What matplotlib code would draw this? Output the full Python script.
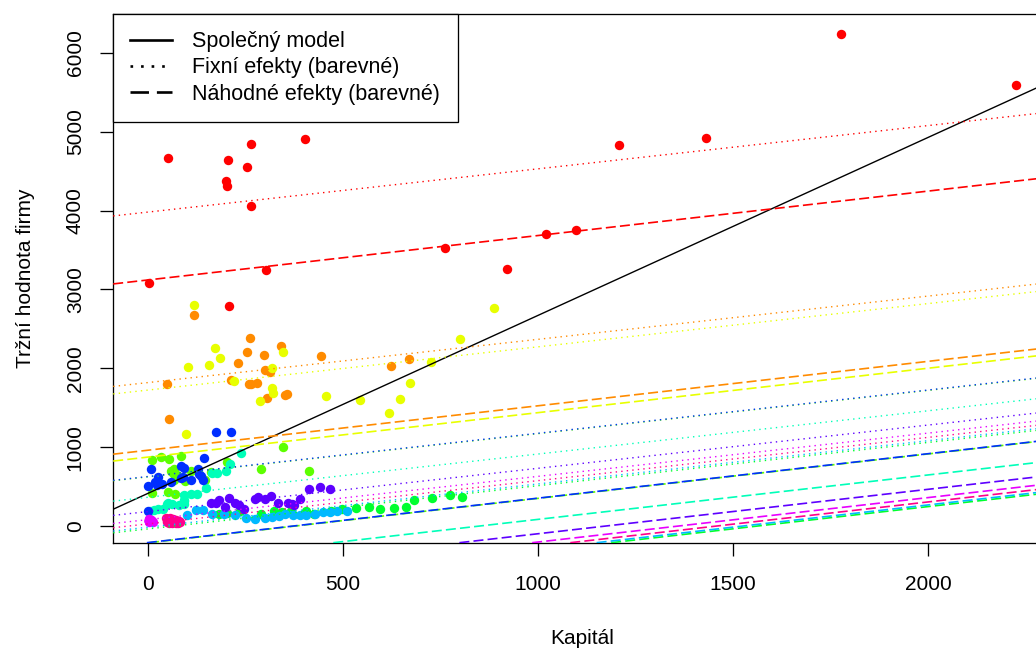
import numpy as np
import matplotlib
matplotlib.use("Agg")
import matplotlib.pyplot as plt
from matplotlib.lines import Line2D

plt.rcParams['font.family'] = ['Liberation Sans', 'DejaVu Sans']

# firms in panel order and their rainbow colours
firms = ["General Motors", "US Steel", "General Electric", "Chrysler",
         "Atlantic Refining", "IBM", "Union Oil", "Westinghouse",
         "Goodyear", "Diamond Match", "American Steel"]
colors = ["#FF0000", "#FF8B00", "#E8FF00", "#5DFF00", "#00FF2E", "#00FFB9",
          "#00B9FF", "#002EFF", "#5D00FF", "#E800FF", "#FF008B"]

gm_capital = [2.8, 52.6, 156.9, 209.2, 203.4, 207.2, 255.2, 303.7, 264.1, 201.6,
              265.0, 402.2, 761.5, 922.4, 1020.1, 1099.0, 1207.7, 1430.5, 1777.3, 2226.3]
gm_value = [3078.5, 4661.7, 5387.1, 2792.2, 4313.2, 4643.9, 4551.2, 3244.1, 4053.7, 4379.3,
            4840.9, 4900.9, 3526.5, 3254.7, 3700.2, 3755.6, 4833.0, 4924.9, 6241.7, 5593.6]

uss_capital = [53.8, 50.5, 118.1, 260.2, 312.7, 254.2, 261.4, 298.7, 301.8, 279.1,
               213.8, 232.6, 264.8, 306.9, 351.1, 357.8, 341.1, 444.2, 623.6, 669.7]
uss_value = [1362.4, 1807.1, 2676.3, 1801.9, 1957.3, 2202.9, 2380.5, 2168.6, 1985.1, 1813.9,
             1850.2, 2067.7, 1796.7, 1625.8, 1667.0, 1677.4, 2289.5, 2159.4, 2031.3, 2115.5]

ge_capital = [97.8, 104.4, 118.0, 156.2, 172.6, 186.6, 220.9, 287.8, 319.9, 321.3,
              319.6, 346.0, 456.4, 543.4, 618.3, 647.4, 671.3, 726.1, 800.3, 888.9]
ge_value = [1170.6, 2015.8, 2803.3, 2039.7, 2256.2, 2132.2, 1834.1, 1588.0, 1749.4, 1687.2,
            2007.7, 2208.3, 1656.7, 1604.4, 1431.8, 1610.5, 1819.4, 2079.7, 2371.6, 2759.9]

chr_capital = [10.5, 10.2, 34.7, 51.8, 64.3, 67.1, 75.2, 71.4, 67.1, 60.5,
               54.6, 84.8, 96.8, 110.2, 147.4, 163.2, 203.5, 290.6, 346.1, 414.9]
chr_value = [417.5, 837.8, 883.9, 437.9, 679.7, 727.8, 643.6, 410.9, 588.4, 698.4,
             846.4, 893.8, 579.0, 694.6, 590.3, 693.5, 809.0, 727.0, 1001.5, 703.2]

ar_capital = [183.2, 204.0, 236.0, 291.7, 323.1, 344.0, 367.7, 407.2, 426.6, 470.0,
              499.2, 534.6, 566.6, 595.3, 631.4, 662.3, 683.9, 729.3, 774.3, 804.9]
ar_value = [157.7, 167.9, 192.9, 156.7, 191.4, 185.5, 199.6, 189.5, 151.2, 187.7,
            214.7, 232.9, 249.0, 224.5, 237.3, 240.1, 327.3, 359.4, 398.4, 365.7]

ibm_capital = [6.5, 15.8, 27.7, 39.2, 48.6, 52.5, 61.5, 80.5, 94.4, 92.6,
               92.3, 94.2, 111.4, 127.4, 149.3, 164.4, 177.2, 200.0, 211.5, 238.7]
ibm_value = [197.0, 210.3, 223.1, 216.7, 286.4, 298.0, 276.9, 272.6, 287.4, 330.3,
             324.4, 401.9, 407.4, 409.2, 482.2, 673.8, 676.9, 702.0, 793.5, 927.3]

uo_capital = [100.2, 125.0, 142.4, 165.1, 194.8, 222.9, 252.1, 276.3, 300.3, 318.2,
              336.2, 351.2, 373.6, 389.4, 406.7, 429.5, 450.6, 466.9, 486.2, 511.3]
uo_value = [138.0, 200.1, 210.1, 161.2, 161.7, 145.1, 110.6, 98.1, 108.8, 118.2,
            126.5, 156.7, 148.2, 140.0, 142.0, 152.0, 177.0, 180.0, 190.0, 192.0]

wh_capital = [1.8, 0.8, 7.4, 18.1, 23.5, 26.5, 36.2, 60.8, 84.4, 91.2,
              92.4, 86.0, 111.1, 130.6, 141.8, 136.7, 129.7, 145.5, 174.8, 213.5]
wh_value = [191.5, 516.0, 729.0, 560.4, 519.9, 628.5, 537.1, 561.2, 617.2, 626.7,
            737.2, 760.5, 581.4, 662.3, 583.8, 635.2, 723.8, 864.1, 1193.5, 1188.9]

gy_capital = [162.0, 174.0, 183.0, 198.0, 208.0, 223.0, 234.0, 248.0, 274.0, 282.0,
              316.0, 302.0, 333.0, 359.0, 370.0, 376.0, 391.0, 414.0, 443.0, 468.0]
gy_value = [290.6, 291.1, 335.0, 246.0, 356.2, 289.8, 268.2, 213.3, 348.2, 374.2,
            387.2, 347.4, 291.9, 297.2, 276.9, 274.6, 339.9, 474.8, 496.0, 474.5]

dm_capital = [4.50, 4.71, 4.57, 4.56, 4.38, 4.21, 4.12, 3.83, 3.58, 3.41,
              3.31, 3.23, 3.90, 5.38, 7.39, 8.74, 9.07, 9.93, 11.68, 14.33]
dm_value = [70.91, 87.94, 82.20, 58.72, 80.54, 86.47, 77.68, 62.16, 62.24, 61.82,
            65.85, 69.54, 64.97, 68.00, 71.24, 69.05, 83.04, 74.42, 63.51, 58.12]

as_capital = [48.0, 50.0, 52.0, 54.0, 55.0, 57.0, 58.0, 60.0, 62.0, 63.0,
              65.0, 66.0, 68.0, 70.0, 72.0, 74.0, 76.0, 78.0, 80.0, 84.0]
as_value = [105.0, 60.0, 90.0, 45.0, 75.0, 100.0, 55.0, 85.0, 40.0, 70.0,
            95.0, 50.0, 80.0, 60.0, 45.0, 75.0, 55.0, 40.0, 65.0, 50.0]

capital = [gm_capital, uss_capital, ge_capital, chr_capital, ar_capital, ibm_capital,
           uo_capital, wh_capital, gy_capital, dm_capital, as_capital]
value = [gm_value, uss_value, ge_value, chr_value, ar_value, ibm_value,
         uo_value, wh_value, gy_value, dm_value, as_value]

# fitted lines
pooled_intercept = 415.0
pooled_slope = 2.255
fe_slope = 0.548
fe_intercepts = [3980, 1820, 1725, 625, -34, 367, -12, 630, 186, 84, 30]
re_slope = 0.563
re_intercepts = [3120, 963, 876, -210, -877, -476, -856, -207, -658, -763, -818]

W, H = 1036, 648
fig = plt.figure(figsize=(W / 100, H / 100), dpi=100)
ax = fig.add_axes([113.2 / W, (H - 542.7) / H, (1050.9 - 113.2) / W, (542.7 - 14) / H])

for i in range(len(firms)):
    ax.scatter(capital[i], value[i], s=46, color=colors[i], linewidths=0, zorder=2)

ax.axline((0, pooled_intercept), slope=pooled_slope, color='black', lw=1.0, zorder=3)
for i in range(len(firms)):
    ax.axline((0, fe_intercepts[i]), slope=fe_slope, color=colors[i], lw=1.0,
              linestyle=(0, (1, 3)), zorder=3)
for i in range(len(firms)):
    ax.axline((0, re_intercepts[i]), slope=re_slope, color=colors[i], lw=1.2,
              linestyle=(0, (6, 2.5)), zorder=3)

allx = np.concatenate([np.array(c) for c in capital])
ally = np.concatenate([np.array(v) for v in value])
rx = allx.max() - allx.min()
ry = ally.max() - ally.min()
ax.set_xlim(allx.min() - 0.04 * rx, allx.max() + 0.04 * rx)
ax.set_ylim(ally.min() - 0.04 * ry, ally.max() + 0.04 * ry)

ax.set_xticks([0, 500, 1000, 1500, 2000])
ax.set_yticks([0, 1000, 2000, 3000, 4000, 5000, 6000])
ax.tick_params(direction='out', length=9.4, width=0.94, labelsize=15)
ax.tick_params(axis='x', pad=13.5)
ax.tick_params(axis='y', pad=11)
for lab in ax.get_yticklabels():
    lab.set_rotation(90)
    lab.set_va('center')
for sp in ax.spines.values():
    sp.set_linewidth(0.94)

ax.set_xlabel("Kapitál", fontsize=15, labelpad=25.5)
ax.set_ylabel("Tržní hodnota firmy", fontsize=15, labelpad=22.5)

handles = [Line2D([], [], color='black', lw=1.9),
           Line2D([], [], color='black', lw=1.9, linestyle=(0, (1, 3))),
           Line2D([], [], color='black', lw=1.9, linestyle=(0, (7, 3)))]
labels = ["Společný model", "Fixní efekty (barevné)", "Náhodné efekty (barevné)"]
leg = ax.legend(handles, labels, loc='upper left', bbox_to_anchor=(0, 1),
                borderaxespad=0, fancybox=False, edgecolor='black', framealpha=1,
                fontsize=15.5, handlelength=1.95, handletextpad=0.93,
                borderpad=0.8, labelspacing=0.24)
leg.get_frame().set_linewidth(0.94)
leg.set_zorder(5)

fig.savefig("out.png", dpi=100)
